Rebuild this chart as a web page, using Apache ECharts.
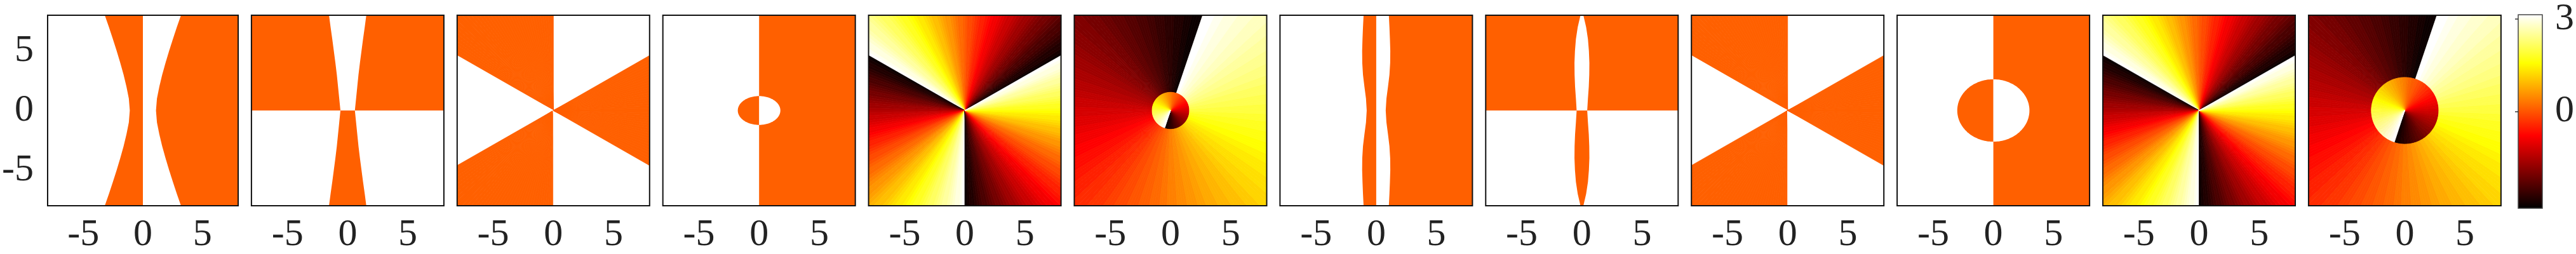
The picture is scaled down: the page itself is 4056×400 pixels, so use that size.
<!DOCTYPE html>
<html>
<head>
<meta charset="utf-8">
<title>phase portraits</title>
<script src="https://cdn.jsdelivr.net/npm/echarts@6/dist/echarts.min.js"></script>
<style>
  html, body { margin: 0; padding: 0; background: #fff; }
  #chart { width: 4056px; height: 400px; }
</style>
</head>
<body>
<div id="chart"></div>
<script>
// axes
const axisLimit = 8;
const tickValues = [-5, 0, 5];
const colorbarTicks = [0, 3];
const PHASE = 3.14159; // colour scale runs -pi .. pi

// panels 1 and 7: x of the curved band edges (mirrored on both sides), sampled along y
const bandY = [-8, -7, -6, -5, -4, -3, -2, -1, 0, 1, 2, 3, 4, 5, 6, 7, 8];
const bandX1 = [3.2, 2.85, 2.52, 2.2, 1.9, 1.62, 1.38, 1.18, 1.1, 1.18, 1.38, 1.62, 1.9, 2.2, 2.52, 2.85, 3.2];
const bandX7 = [1.05, 1.1, 1.14, 1.17, 1.16, 1.1, 0.98, 0.85, 0.79, 0.85, 0.98, 1.1, 1.16, 1.17, 1.14, 1.1, 1.05];

// panels 2 and 8: half width of the central wedge / lens, sampled along |y|
const halfY = [0, 1, 2, 3, 4, 5, 6, 7, 8];
const wedgeW2 = [0.6, 0.7, 0.8, 0.9, 1.02, 1.15, 1.28, 1.42, 1.55];
const lensW8 = [0.44, 0.5, 0.57, 0.61, 0.62, 0.58, 0.5, 0.35, 0.12];

// panels 3 and 9: constant sectors [from deg, to deg, phase]
const sectors3 = [[30, 90, PHASE], [90, 150, 0], [150, 210, PHASE], [210, 270, 0], [270, 330, PHASE], [330, 390, 0]];

// panels 4 and 10: semi axes of the central ellipse
const ellipse4 = [1.77, 1.21];
const ellipse10 = [3.0, 2.62];

// panels 5 and 11: phase sweeps -pi..pi between the cuts [from deg, to deg, phase at start, phase at end]
const sectors5 = [[30, 150, -PHASE, PHASE], [150, 270, -PHASE, PHASE], [270, 390, -PHASE, PHASE]];

// panels 6 and 12: one sweep outside, one inside the disk
const outerSweep = [71.5, 431.5, -PHASE, PHASE];
const innerSweep = [252, 612, -PHASE, PHASE];
const disk6 = 1.53;
const disk12 = 2.78;

// hot colormap stops for the colour bar
const hotStops = [[0, '#000000'], [0.375, '#ff0000'], [0.75, '#ffff00'], [1, '#ffffff']];

const fanStep = 1.5; // degrees per drawn slice
const farR = 12;

// matlab hot(64)
function hot(v) {
  let i = Math.floor((v + Math.PI) / (2 * Math.PI) * 64);
  i = Math.max(0, Math.min(63, i)) + 1;
  const r = Math.min(1, i / 24);
  const g = Math.min(1, Math.max(0, (i - 24) / 24));
  const b = Math.max(0, (i - 48) / 16);
  return 'rgb(' + Math.round(r * 255) + ',' + Math.round(g * 255) + ',' + Math.round(b * 255) + ')';
}

const L = axisLimit;
const rect = (x0, y0, x1, y1, v) => ({ type: 'poly', pts: [[x0, y0], [x1, y0], [x1, y1], [x0, y1]], v: v });
const fan = (s, r) => ({ type: 'fan', a0: s[0], a1: s[1], v0: s[2], v1: s.length > 3 ? s[3] : s[2], r: r });

function bandPanel(xs) {
  return [
    rect(-L, -L, L, L, PHASE),
    { type: 'poly', pts: bandY.map((y, i) => [-xs[i], y]).concat([[0, L], [0, -L]]), v: 0 },
    { type: 'poly', pts: bandY.map((y, i) => [xs[i], y]).concat([[L, L], [L, -L]]), v: 0 }
  ];
}
function wedgePanel(ws) {
  const up = halfY.map((y, i) => [ws[i], y]).concat(halfY.map((y, i) => [-ws[i], y]).reverse());
  const down = halfY.map((y, i) => [ws[i], -y]).concat(halfY.map((y, i) => [-ws[i], -y]).reverse());
  return [
    rect(-L, 0, L, L, 0),
    rect(-L, -L, L, 0, PHASE),
    { type: 'poly', pts: up, v: PHASE },
    { type: 'poly', pts: down, v: 0 }
  ];
}
function ellipsePanel(ax) {
  return [
    rect(-L, -L, 0, L, PHASE),
    rect(0, -L, L, L, 0),
    { type: 'ellipse', a: ax[0], b: ax[1], from: 90, to: 270, v: 0 },
    { type: 'ellipse', a: ax[0], b: ax[1], from: -90, to: 90, v: PHASE }
  ];
}

const panels = [
  bandPanel(bandX1),
  wedgePanel(wedgeW2),
  sectors3.map(s => fan(s, farR)),
  ellipsePanel(ellipse4),
  sectors5.map(s => fan(s, farR)),
  [fan(outerSweep, farR), fan(innerSweep, disk6)],
  bandPanel(bandX7),
  wedgePanel(lensW8),
  sectors3.map(s => fan(s, farR)),
  ellipsePanel(ellipse10),
  sectors5.map(s => fan(s, farR)),
  [fan(outerSweep, farR), fan(innerSweep, disk12)]
];

function renderRegion(reg, api) {
  if (reg.type === 'poly') {
    return { type: 'polygon', shape: { points: reg.pts.map(p => api.coord(p)) }, style: { fill: hot(reg.v) } };
  }
  if (reg.type === 'ellipse') {
    const pts = [];
    for (let a = reg.from; a <= reg.to + 1e-9; a += 2) {
      const t = a * Math.PI / 180;
      pts.push(api.coord([reg.a * Math.cos(t), reg.b * Math.sin(t)]));
    }
    return { type: 'polygon', shape: { points: pts }, style: { fill: hot(reg.v) } };
  }
  // fan: slices around the origin, phase varying with the angle
  const children = [];
  const n = Math.max(1, Math.round((reg.a1 - reg.a0) / fanStep));
  const c = api.coord([0, 0]);
  for (let k = 0; k < n; k++) {
    const t0 = (reg.a0 + (reg.a1 - reg.a0) * k / n) * Math.PI / 180;
    const t1 = (reg.a0 + (reg.a1 - reg.a0) * (k + 1) / n) * Math.PI / 180;
    const v = reg.v0 + (reg.v1 - reg.v0) * (k + 0.5) / n;
    const col = hot(v);
    children.push({
      type: 'polygon',
      shape: { points: [c, api.coord([reg.r * Math.cos(t0), reg.r * Math.sin(t0)]), api.coord([reg.r * Math.cos(t1), reg.r * Math.sin(t1)])] },
      style: { fill: col, stroke: col, lineWidth: 0.8 }
    });
  }
  return { type: 'group', children: children };
}

const labelFont = { fontFamily: '"Liberation Serif", "DejaVu Serif", serif', fontSize: 60, color: '#222' };
const panelLeft = 72, panelStep = 323.9, panelSize = 303, panelTop = 24;

const grids = [], xAxes = [], yAxes = [], series = [];
panels.forEach((regs, p) => {
  grids.push({ left: panelLeft + panelStep * p, top: panelTop, width: panelSize, height: 304,
    show: true, borderColor: '#111', borderWidth: 2, backgroundColor: 'transparent', z: 10 });
  xAxes.push({ type: 'value', gridIndex: p, min: -L, max: L,
    axisLine: { show: false }, axisTick: { show: false }, splitLine: { show: false },
    axisLabel: Object.assign({ customValues: tickValues, margin: 16 }, labelFont) });
  yAxes.push({ type: 'value', gridIndex: p, min: -L, max: L,
    axisLine: { show: false }, axisTick: { show: false }, splitLine: { show: false },
    axisLabel: Object.assign({ show: p === 0, customValues: tickValues, margin: 22 }, labelFont) });
  series.push({
    type: 'custom', coordinateSystem: 'cartesian2d', xAxisIndex: p, yAxisIndex: p,
    clip: true, silent: true,
    data: regs.map((r, i) => [0, 0, i]),
    renderItem: (params, api) => renderRegion(regs[params.dataIndex], api)
  });
});

// colour bar
const cb = panels.length;
grids.push({ left: 3965, top: 23, width: 42, height: 305, show: true, borderColor: '#444', borderWidth: 1.5, backgroundColor: 'transparent', z: 10 });
xAxes.push({ type: 'value', gridIndex: cb, min: 0, max: 1, show: false });
yAxes.push({ type: 'value', gridIndex: cb, min: -PHASE, max: PHASE, position: 'right', z: 20,
  axisLine: { show: false }, splitLine: { show: false },
  axisTick: { show: true, inside: true, length: 5, customValues: colorbarTicks, lineStyle: { color: '#333', width: 1.5 } },
  axisLabel: Object.assign({ customValues: colorbarTicks, margin: 20 }, labelFont) });
series.push({
  type: 'custom', coordinateSystem: 'cartesian2d', xAxisIndex: cb, yAxisIndex: cb, silent: true,
  data: [[0, 0]],
  renderItem: (params, api) => {
    const a = api.coord([0, PHASE]), b = api.coord([1, -PHASE]);
    return {
      type: 'rect',
      shape: { x: a[0], y: a[1], width: b[0] - a[0], height: b[1] - a[1] },
      style: { fill: new echarts.graphic.LinearGradient(0, 1, 0, 0, hotStops.map(s => ({ offset: s[0], color: s[1] }))) }
    };
  }
});

const chart = echarts.init(document.getElementById('chart'), null, { renderer: 'canvas' });
chart.setOption({
  animation: false,
  backgroundColor: '#fff',
  grid: grids,
  xAxis: xAxes,
  yAxis: yAxes,
  series: series
});
window.addEventListener('resize', () => chart.resize());
</script>
</body>
</html>
